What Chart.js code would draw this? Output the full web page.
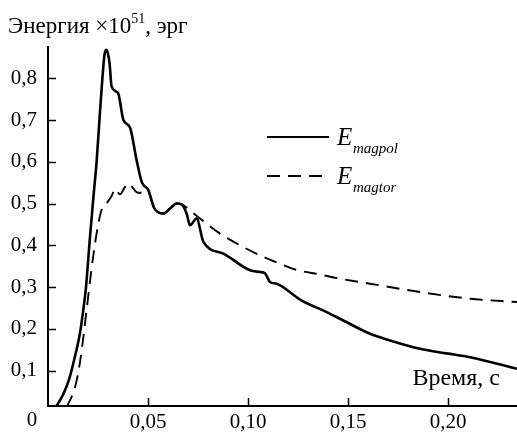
<!DOCTYPE html>
<html>
<head>
<meta charset="utf-8">
<script src="https://cdn.jsdelivr.net/npm/chart.js@4"></script>
<style>
  body { margin: 0; background: #fff; }
  canvas { display: block; }
</style>
</head>
<body>
<canvas id="energy" width="517" height="435"></canvas>
<script>
// time, s
const tPol = [0.0043, 0.0077, 0.0105, 0.013, 0.016, 0.0175, 0.019, 0.021, 0.0228, 0.0243, 0.026, 0.0272, 0.0282, 0.029, 0.0298, 0.0308, 0.0318, 0.035, 0.0377, 0.041, 0.0443, 0.047, 0.0502, 0.053, 0.0555, 0.0577, 0.061, 0.0643, 0.0668, 0.0693, 0.071, 0.0743, 0.0777, 0.0877, 0.101, 0.106, 0.1085, 0.111, 0.1143, 0.126, 0.1393, 0.146, 0.161, 0.171, 0.186, 0.1993, 0.211, 0.2345];
const ePol = [0.015, 0.044, 0.078, 0.124, 0.19, 0.24, 0.30, 0.42, 0.52, 0.60, 0.72, 0.80, 0.855, 0.868, 0.862, 0.835, 0.78, 0.765, 0.70, 0.682, 0.604, 0.55, 0.532, 0.49, 0.478, 0.476, 0.488, 0.50, 0.498, 0.476, 0.448, 0.464, 0.408, 0.38, 0.34, 0.336, 0.333, 0.312, 0.308, 0.27, 0.24, 0.224, 0.188, 0.172, 0.152, 0.141, 0.132, 0.104];

const tTor = [0.0093, 0.0135, 0.016, 0.0193, 0.0218, 0.0243, 0.0268, 0.0292, 0.0318, 0.0335, 0.036, 0.0385, 0.040, 0.045, 0.0502, 0.053, 0.0555, 0.0577, 0.061, 0.0643, 0.0668, 0.075, 0.086, 0.096, 0.106, 0.116, 0.1243, 0.136, 0.146, 0.161, 0.186, 0.211, 0.2345];
const eTor = [0.012, 0.06, 0.12, 0.245, 0.345, 0.428, 0.485, 0.50, 0.518, 0.535, 0.522, 0.54, 0.548, 0.526, 0.525, 0.49, 0.478, 0.476, 0.488, 0.50, 0.498, 0.468, 0.428, 0.40, 0.376, 0.356, 0.341, 0.33, 0.32, 0.308, 0.288, 0.272, 0.264];

const seriesNames = ['magpol', 'magtor'];
const xTicks = [0.05, 0.10, 0.15, 0.20];
const yTicks = [0.1, 0.2, 0.3, 0.4, 0.5, 0.6, 0.7, 0.8];

const serif = '"Liberation Serif", "DejaVu Serif", serif';

function toPoints(xs, ys) {
    return xs.map((x, i) => ({ x: x, y: ys[i] }));
}

// ticks go inward, plus the texts chart.js can't lay out (superscript, subscripts)
const extras = {
    id: 'extras',
    afterDraw(chart) {
        const ctx = chart.ctx;
        const xs = chart.scales.x, ys = chart.scales.y;
        const area = chart.chartArea;
        ctx.save();
        ctx.strokeStyle = '#000';
        ctx.lineWidth = 1.5;
        ctx.beginPath();
        xTicks.forEach(v => {
            const px = Math.round(xs.getPixelForValue(v)) + 0.5;
            ctx.moveTo(px, area.bottom);
            ctx.lineTo(px, area.bottom - 8);
        });
        yTicks.forEach(v => {
            const py = Math.round(ys.getPixelForValue(v)) + 0.5;
            ctx.moveTo(area.left, py);
            ctx.lineTo(area.left + 8, py);
        });
        ctx.stroke();

        ctx.fillStyle = '#000';
        ctx.textBaseline = 'alphabetic';
        ctx.textAlign = 'left';

        // axis title on top
        ctx.font = '23px ' + serif;
        let x = 8;
        const t1 = 'Энергия ×10';
        ctx.fillText(t1, x, 33);
        x += ctx.measureText(t1).width;
        ctx.font = '14px ' + serif;
        ctx.fillText('51', x, 23);
        x += ctx.measureText('51').width;
        ctx.font = '23px ' + serif;
        ctx.fillText(', эрг', x, 33);

        // x axis title and corner zero
        ctx.font = '24px ' + serif;
        ctx.textAlign = 'right';
        ctx.fillText('Время, с', 500, 385);
        ctx.font = '21px ' + serif;
        ctx.textAlign = 'center';
        ctx.fillText('0', 32, 426);

        // legend
        const rows = [{ y: 137, dash: [], w: 2.2 }, { y: 176, dash: [13, 8], w: 2 }];
        rows.forEach((r, i) => {
            ctx.lineWidth = r.w;
            ctx.setLineDash(r.dash);
            ctx.beginPath();
            ctx.moveTo(267, r.y);
            ctx.lineTo(329, r.y);
            ctx.stroke();
            ctx.setLineDash([]);
            ctx.textAlign = 'left';
            ctx.font = 'italic 25px ' + serif;
            ctx.fillText('E', 337, r.y + 8);
            ctx.font = 'italic 15px ' + serif;
            ctx.fillText(seriesNames[i], 353, r.y + 16);
        });
        ctx.restore();
    }
};

const ctx = document.getElementById('energy').getContext('2d');
new Chart(ctx, {
    type: 'line',
    data: {
        datasets: [{
            label: 'Emagpol',
            data: toPoints(tPol, ePol),
            borderColor: '#000',
            borderWidth: 2.6,
            pointRadius: 0,
            cubicInterpolationMode: 'monotone'
        }, {
            label: 'Emagtor',
            data: toPoints(tTor, eTor),
            borderColor: '#000',
            borderWidth: 1.9,
            borderDash: [13, 8],
            pointRadius: 0,
            cubicInterpolationMode: 'monotone'
        }]
    },
    options: {
        responsive: false,
        animation: false,
        layout: { padding: { top: 47, left: 0, right: 0, bottom: 0 } },
        plugins: {
            legend: { display: false },
            tooltip: { enabled: false }
        },
        scales: {
            x: {
                type: 'linear',
                min: 0,
                max: 0.2345,
                afterFit: s => { s.height = 29; },
                afterBuildTicks: s => { s.ticks = xTicks.map(v => ({ value: v })); },
                grid: { display: false, drawTicks: false },
                border: { display: true, color: '#000', width: 2 },
                ticks: {
                    padding: 4,
                    color: '#000',
                    maxRotation: 0,
                    font: { family: serif, size: 21 },
                    callback: v => v.toFixed(2).replace('.', ',')
                }
            },
            y: {
                min: 0.015,
                max: 0.875,
                afterFit: s => { s.width = 48; },
                afterBuildTicks: s => { s.ticks = yTicks.map(v => ({ value: v })); },
                grid: { display: false, drawTicks: false },
                border: { display: true, color: '#000', width: 2 },
                ticks: {
                    padding: 11,
                    color: '#000',
                    font: { family: serif, size: 21 },
                    callback: v => v.toFixed(1).replace('.', ',')
                }
            }
        }
    },
    plugins: [extras]
});
</script>
</body>
</html>
